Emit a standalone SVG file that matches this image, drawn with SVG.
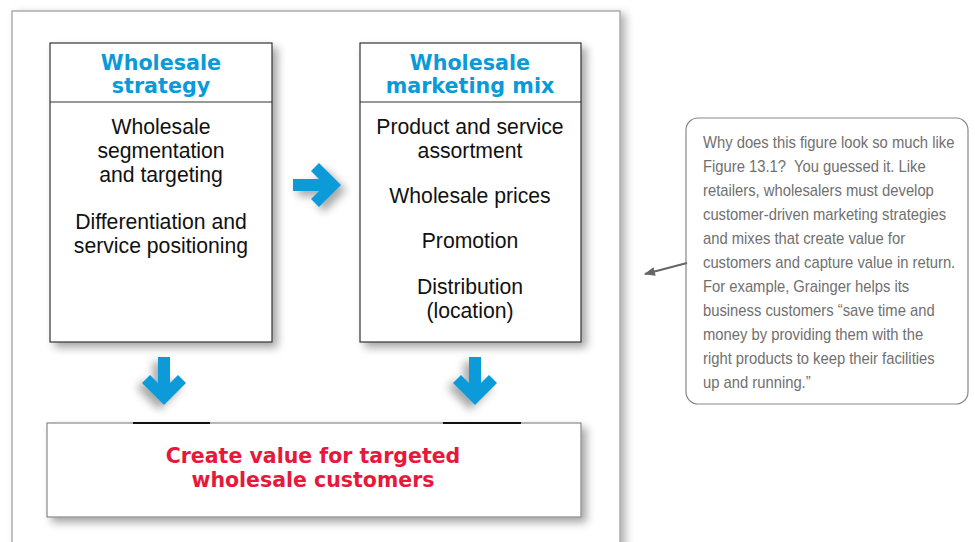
<svg xmlns="http://www.w3.org/2000/svg" width="975" height="542" viewBox="0 0 975 542">
<style>
.box{fill:#fff;stroke:#333;stroke-width:1.2}
.hd{font-family:"DejaVu Sans","Liberation Sans",sans-serif;font-weight:bold;font-size:20.7px;fill:#0a9ad8;text-anchor:middle}
.bd{font-family:"Liberation Sans",Arial,sans-serif;font-size:21.2px;fill:#111;text-anchor:middle}
.rd{font-family:"DejaVu Sans","Liberation Sans",sans-serif;font-weight:bold;font-size:20.5px;fill:#e8173c;text-anchor:middle}
.cl{font-family:"Liberation Sans",Arial,sans-serif;font-size:17px;fill:#707070}
.arr{fill:#0a9ad8}
</style>
<defs>
<filter id="sh" x="-20%" y="-20%" width="150%" height="150%">
<feDropShadow dx="5" dy="5" stdDeviation="4" flood-color="#000" flood-opacity="0.35"/>
</filter>
<filter id="shf" x="-10%" y="-10%" width="130%" height="130%">
<feDropShadow dx="5" dy="3" stdDeviation="4" flood-color="#000" flood-opacity="0.3"/>
</filter>
<path id="ar" d="M0,-6 L26,-6 L18,-14 L26,-22 L48,0 L26,22 L18,14 L26,6 L0,6 Z"/>
<marker id="mh" viewBox="0 0 10 10" refX="9" refY="5" markerWidth="13" markerHeight="11" orient="auto-start-reverse" markerUnits="userSpaceOnUse">
<path d="M0,1 L10,5 L0,9 Z" fill="#666"/>
</marker>
</defs>
<rect width="975" height="542" fill="#fff"/>
<g id="frame">
<rect x="12" y="11" width="608" height="600" fill="#fff" stroke="#999" stroke-width="1.2" filter="url(#shf)"/>
</g>
<g id="strategy">
<rect class="box" x="50" y="43" width="222" height="299" filter="url(#sh)"/>
<line x1="50" y1="102" x2="272" y2="102" stroke="#333" stroke-width="1.2"/>
<text class="hd" x="161" y="70">Wholesale</text>
<text class="hd" x="161" y="93">strategy</text>
<text class="bd" x="161" y="134">Wholesale</text>
<text class="bd" x="161" y="158">segmentation</text>
<text class="bd" x="161" y="182">and targeting</text>
<text class="bd" x="161" y="229">Differentiation and</text>
<text class="bd" x="161" y="253">service positioning</text>
</g>
<g id="mix">
<rect class="box" x="360" y="43" width="221" height="299" filter="url(#sh)"/>
<line x1="360" y1="102" x2="581" y2="102" stroke="#333" stroke-width="1.2"/>
<text class="hd" x="470" y="70">Wholesale</text>
<text class="hd" x="470" y="93">marketing mix</text>
<text class="bd" x="470" y="134">Product and service</text>
<text class="bd" x="470" y="158">assortment</text>
<text class="bd" x="470" y="203">Wholesale prices</text>
<text class="bd" x="470" y="248">Promotion</text>
<text class="bd" x="470" y="294">Distribution</text>
<text class="bd" x="470" y="318">(location)</text>
</g>
<g id="value">
<rect x="47" y="423" width="534" height="94" fill="#fff" stroke="#888" stroke-width="1.2" filter="url(#sh)"/>
<text class="rd" x="313" y="463">Create value for targeted</text>
<text class="rd" x="313" y="487">wholesale customers</text>
</g>
<g id="note">
<rect x="686" y="118" width="282" height="286" rx="12" fill="#fff" stroke="#888" stroke-width="1.2"/>
<g transform="translate(703,0) scale(0.87,1)">
<text class="cl" x="0" y="148">Why does this figure look so much like</text>
<text class="cl" x="0" y="172">Figure 13.1?&#160; You guessed it. Like</text>
<text class="cl" x="0" y="196">retailers, wholesalers must develop</text>
<text class="cl" x="0" y="220">customer-driven marketing strategies</text>
<text class="cl" x="0" y="244">and mixes that create value for</text>
<text class="cl" x="0" y="268">customers and capture value in return.</text>
<text class="cl" x="0" y="292">For example, Grainger helps its</text>
<text class="cl" x="0" y="316">business customers “save time and</text>
<text class="cl" x="0" y="340">money by providing them with the</text>
<text class="cl" x="0" y="364">right products to keep their facilities</text>
<text class="cl" x="0" y="388">up and running.”</text>
</g>
</g>
<g id="connectors">
<use href="#ar" class="arr" transform="translate(293,185)" filter="url(#sh)"/>
<use href="#ar" class="arr" transform="translate(164,357) rotate(90)" filter="url(#sh)"/>
<use href="#ar" class="arr" transform="translate(475,357) rotate(90)" filter="url(#sh)"/>
<line x1="133" y1="423" x2="210" y2="423" stroke="#111" stroke-width="2"/>
<line x1="443" y1="423" x2="521" y2="423" stroke="#111" stroke-width="2"/>
<line x1="687" y1="263" x2="645" y2="274" stroke="#666" stroke-width="2.2" marker-end="url(#mh)"/>
</g>
</svg>
